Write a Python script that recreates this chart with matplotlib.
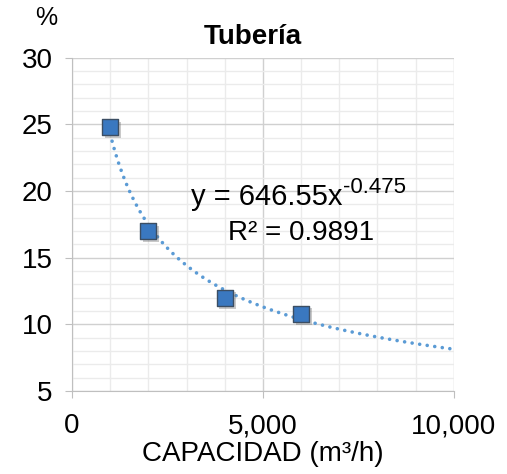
import numpy as np
import matplotlib.pyplot as plt
import matplotlib.patheffects as pe
from matplotlib.ticker import MultipleLocator, FuncFormatter

plt.rcParams['font.family'] = ['Liberation Sans', 'DejaVu Sans']

# Data
capacidad = [1000, 2000, 4000, 6000]
porcentaje = [24.8, 17.0, 12.0, 10.8]
coef_a = 646.55
coef_b = '-0.475'
r2 = 0.9891

fig = plt.figure(figsize=(5.07, 4.74), dpi=100)
ax = fig.add_axes([0.142, 0.175, 0.753, 0.703])

# Trendline (power fit)
xt = np.linspace(1000, 10000, 300)
ax.plot(xt, coef_a * xt ** float(coef_b), linestyle=(0, (0.01, 2.1)), color='#5B9BD5',
        linewidth=2.6, dash_capstyle='round', zorder=3)

# Points
ax.scatter(capacidad, porcentaje, marker='s', s=135, color='#3A78C0',
           edgecolor='#3C4E63', linewidth=1.0, zorder=4,
           path_effects=[pe.SimplePatchShadow(offset=(2, -2), shadow_rgbFace='#666666', alpha=0.35),
                         pe.Normal()])

ax.set_xlim(0, 10000)
ax.set_ylim(5, 30)
ax.xaxis.set_major_locator(MultipleLocator(5000))
ax.xaxis.set_minor_locator(MultipleLocator(1000))
ax.yaxis.set_major_locator(MultipleLocator(5))
ax.yaxis.set_minor_locator(MultipleLocator(1))
ax.xaxis.set_major_formatter(FuncFormatter(lambda v, p: f'{int(v):,}'))

ax.grid(which='major', color='#D0D0D0', linewidth=1.0)
ax.grid(which='minor', color='#EBEBEB', linewidth=1.0)
ax.set_axisbelow(True)

for s in ['top', 'right']:
    ax.spines[s].set_visible(False)
for s in ['left', 'bottom']:
    ax.spines[s].set_color('#BFBFBF')
ax.tick_params(which='major', length=5, color='#BFBFBF', labelsize=20)
ax.tick_params(axis='y', pad=9)
ax.tick_params(axis='x', pad=11)
ax.tick_params(which='minor', length=0)

ax.set_title('Tubería', fontsize=20, fontweight='bold', pad=10, x=0.474)
ax.set_xlabel('CAPACIDAD (m³/h)', fontsize=20, labelpad=1)
fig.text(0.091, 0.962, '%', fontsize=18, ha='center', va='center')

ax.text(7094, 19.55, f'y = {coef_a}x', fontsize=21, ha='right', va='center')
ax.text(7094, 20.3, coef_b, fontsize=16, ha='left', va='center')
ax.text(5995, 16.85, f'R² = {r2}', fontsize=20, ha='center', va='center')

fig.savefig('out.png', dpi=100)
